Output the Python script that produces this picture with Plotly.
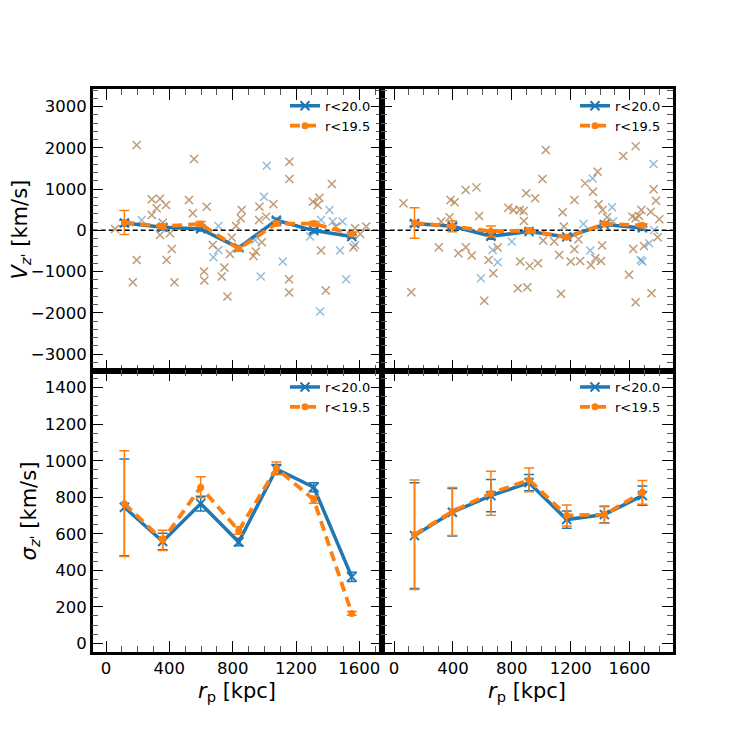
import plotly.graph_objects as go
from plotly.subplots import make_subplots

# ---------------- data ----------------
# bin centres (kpc)
rp_left = [116, 358, 598, 838, 1076, 1312, 1552]
rp_right = [139, 396, 658, 917, 1173, 1429, 1687]

# mean line-of-sight velocity per bin
vz_left_r20 = [175, 73, 33, -427, 243, -8, -150]
vz_left_r20_err = [70, 60, 50, 60, 50, 50, 40]
vz_left_r195 = [190, 97, 154, -450, 162, 162, -88]
vz_left_r195_err = [290, 60, 60, 60, 50, 50, 40]

vz_right_r20 = [165, 97, -145, -30, -160, 138, 58]
vz_right_r20_err = [60, 60, 70, 50, 30, 40, 40]
vz_right_r195 = [178, 97, -24, -8, -170, 154, 121]
vz_right_r195_err = [370, 130, 130, 60, 30, 40, 40]

# velocity dispersion per bin
sz_left_r20 = [745, 558, 765, 555, 955, 855, 364]
sz_left_r20_err = [265, 45, 40, 20, 25, 25, 25]
sz_left_r195 = [765, 564, 855, 618, 958, 787, 164]
sz_left_r195_err = [290, 55, 57, 20, 35, 20, 10]

sz_right_r20 = [590, 718, 809, 880, 678, 705, 809]
sz_right_r20_err = [290, 130, 88, 45, 47, 45, 53]
sz_right_r195 = [595, 722, 822, 895, 700, 705, 827]
sz_right_r195_err = [300, 132, 120, 65, 57, 47, 65]

# individual galaxies (left panel); bright = 1 if also r<19.5
gal_left_x = [57, 194, 225, 194, 169, 289, 341, 320, 289, 379, 358, 341, 404, 415, 383, 432,
              556, 524, 548, 636, 674, 710, 710, 678, 619, 621, 748, 731, 767, 794, 783, 821,
              857, 851, 931, 946, 969, 967, 998, 1015, 1011, 1057, 984, 941, 977, 1116, 1158,
              1158, 1156, 1156, 1306, 1348, 1337, 1289, 1358, 1358, 1352, 1388, 1426, 1411,
              1432, 1451, 1478, 1493, 1516, 1573, 1563, 1605, 1643, 1573]
gal_left_y = [32, 2065, 250, -718, -1258, 750, 766, 532, 371, 613, 185, -113, -73, -452, -718,
              -1258, 1726, 734, 411, 573, -355, 105, -476, -653, -1000, -1218, -903, -1121,
              -1605, -177, -573, 105, 492, 290, -621, -516, 573, 250, 815, 1565, 331, 629,
              -290, -234, -1121, -758, 1661, 1242, -1186, -1508, 694, 790, 613, -153, 250,
              -492, -1968, -1460, 1121, 492, 210, 89, -492, 210, -1186, 48, -411, -89, 89, -355]
gal_left_bright = [1, 1, 0, 1, 1, 1, 1, 1, 1, 1, 1, 1, 1, 1, 1, 1,
                   1, 1, 1, 1, 1, 0, 0, 0, 1, 1, 1, 1, 1, 1, 1, 1,
                   1, 1, 1, 1, 1, 1, 0, 0, 1, 1, 1, 0, 0, 0, 1,
                   1, 1, 1, 1, 1, 1, 0, 0, 1, 0, 1, 1, 0,
                   0, 1, 0, 0, 0, 1, 1, 1, 1, 0]

# individual galaxies (right panel)
gal_right_x = [64, 117, 304, 320, 377, 384, 411, 437, 487, 487, 528, 560, 578, 642, 670, 704,
               704, 674, 590, 613, 777, 812, 853, 880, 882, 898, 958, 800, 857, 921, 978, 841,
               905, 1008, 1031, 1013, 1088, 1122, 1134, 1145, 1154, 1225, 1225, 1200, 1264,
               1253, 1287, 1298, 1349, 1383, 1351, 1390, 1417, 1481, 1447, 1488, 1333, 1367,
               1406, 1337, 1413, 1557, 1641, 1596, 1641, 1625, 1618, 1641, 1664, 1680, 1676,
               1687, 1698, 1733, 1744, 1749, 1763, 1763, 1779, 1802, 1790, 1767]
gal_right_y = [653, -1500, -411, 210, 315, 734, 677, -556, 976, -411, -613, 1040, 347, -718,
               -476, -419, -774, -1040, -1161, -1710, 548, 492, 492, 468, 226, 895, 774, -274,
               -758, -863, -798, -1403, -1379, 1242, 1944, -250, -274, -597, -1540, 435, 89,
               734, -460, -758, -742, -218, 153, 1137, 1258, 1419, 935, 629, 492, 556, 315,
               210, -492, -677, -742, -839, -371, 1798, 2040, -1081, -1742, -452, 331, 290,
               347, 492, -718, -758, -379, -315, 452, -1524, 1605, 992, 718, 266, -169, 8]
gal_right_bright = [1, 1, 1, 1, 1, 1, 1, 1, 1, 1, 1, 1, 1, 1, 0, 1,
                    0, 1, 0, 1, 1, 1, 1, 1, 1, 1, 1, 0, 1, 1, 1, 1,
                    1, 1, 1, 1, 1, 1, 1, 1, 1, 1, 1, 1, 1,
                    1, 0, 1, 0, 1, 1, 1, 1, 0, 1, 0, 0, 1,
                    1, 1, 1, 1, 1, 1, 1, 1, 1, 1, 1, 1, 0,
                    0, 1, 0, 1, 1, 0, 1, 1, 1, 1, 0]

labels = ["r<20.0", "r<19.5"]
x_ticks = [0, 400, 800, 1200, 1600]
x_ticktext = ["0", "400", "800", "1200", "1600"]
vz_ticks = [-3000, -2000, -1000, 0, 1000, 2000, 3000]
vz_ticktext = ["\u22123000", "\u22122000", "\u22121000", "0", "1000", "2000", "3000"]
sz_ticks = [0, 200, 400, 600, 800, 1000, 1200, 1400]
sz_ticktext = ["0", "200", "400", "600", "800", "1000", "1200", "1400"]

# ---------------- style ----------------
BLUE = "#1f77b4"
ORANGE = "#ff7f0e"
BLUE_A = "rgba(31,119,180,0.5)"
ORANGE_A = "rgba(255,127,14,0.5)"
FONT = "DejaVu Sans"
W = 747
OFF = 8  # page body margin offset

fig = make_subplots(rows=2, cols=2, horizontal_spacing=0, vertical_spacing=0)


def add_galaxies(row, col, gx, gy, gb):
    fig.add_trace(go.Scatter(x=gx, y=gy, mode="markers", showlegend=False,
                             marker=dict(symbol="x-thin", size=8, line=dict(width=1.4, color=BLUE_A))),
                  row=row, col=col)
    bx = [x for x, b in zip(gx, gb) if b]
    by = [y for y, b in zip(gy, gb) if b]
    fig.add_trace(go.Scatter(x=bx, y=by, mode="markers", showlegend=False,
                             marker=dict(symbol="x-thin", size=8, line=dict(width=1.4, color=ORANGE_A))),
                  row=row, col=col)


def add_profiles(row, col, rp, m20, e20, m195, e195, leg):
    fig.add_trace(go.Scatter(x=rp, y=m20, name=labels[0], legend=leg, mode="lines+markers",
                             line=dict(color=BLUE, width=3.5),
                             marker=dict(symbol="x-thin", size=9, color=BLUE, line=dict(width=2, color=BLUE)),
                             error_y=dict(type="data", array=e20, color=BLUE, thickness=1.5, width=5)),
                  row=row, col=col)
    fig.add_trace(go.Scatter(x=rp, y=m195, name=labels[1], legend=leg, mode="lines+markers",
                             line=dict(color=ORANGE, width=3.8, dash="10px,6px"),
                             marker=dict(symbol="circle", size=7, color=ORANGE),
                             error_y=dict(type="data", array=e195, color=ORANGE, thickness=1.5, width=5)),
                  row=row, col=col)


add_galaxies(1, 1, gal_left_x, gal_left_y, gal_left_bright)
add_profiles(1, 1, rp_left, vz_left_r20, vz_left_r20_err, vz_left_r195, vz_left_r195_err, "legend")
add_galaxies(1, 2, gal_right_x, gal_right_y, gal_right_bright)
add_profiles(1, 2, rp_right, vz_right_r20, vz_right_r20_err, vz_right_r195, vz_right_r195_err, "legend2")
add_profiles(2, 1, rp_left, sz_left_r20, sz_left_r20_err, sz_left_r195, sz_left_r195_err, "legend3")
add_profiles(2, 2, rp_right, sz_right_r20, sz_right_r20_err, sz_right_r195, sz_right_r195_err, "legend4")

# zero lines in velocity panels
for xr, yr in [("x", "y"), ("x2", "y2")]:
    fig.add_shape(type="line", xref=xr + " domain", yref=yr, x0=0, x1=1, y0=0, y1=0,
                  line=dict(color="black", width=1.3, dash="5px,3px"), layer="below")

# ---------------- axes ----------------
def px_x(p):
    return (p - OFF) / W


def px_y(p):
    return 1 - (p - OFF) / W


xl0, xmid, xr1 = px_x(92.7), px_x(381.7), px_x(672.7)
yb0, ymid, yt1 = px_y(653.3), px_y(371.5), px_y(89)

common = dict(showline=True, linewidth=2.5, linecolor="black", mirror="allticks",
              ticks="inside", ticklen=11, tickwidth=1.4, tickcolor="black",
              showgrid=False, zeroline=False,
              tickfont=dict(family=FONT, size=16.5, color="black"))

x_left_range = [-84, 1741]
x_right_range = [-84, 1893]
xaxes = {
    "xaxis": dict(domain=[xl0, xmid], range=x_left_range, showticklabels=False),
    "xaxis2": dict(domain=[xmid, xr1], range=x_right_range, showticklabels=False),
    "xaxis3": dict(domain=[xl0, xmid], range=x_left_range, showticklabels=True),
    "xaxis4": dict(domain=[xmid, xr1], range=x_right_range, showticklabels=True),
}
for k, v in xaxes.items():
    d = dict(common)
    d.update(v)
    d.update(tickvals=x_ticks, ticktext=x_ticktext,
             minor=dict(ticks="inside", ticklen=6, tickwidth=1, tickcolor="#555", dtick=100, tick0=0))
    fig.update_layout({k: d})

vz_minor = dict(ticks="inside", ticklen=6, tickwidth=1, tickcolor="#555", dtick=200, tick0=0)
sz_minor = dict(ticks="inside", ticklen=6, tickwidth=1, tickcolor="#555", dtick=50, tick0=0)
yaxes = {
    "yaxis": dict(domain=[ymid, yt1], range=[-3400, 3430], showticklabels=True,
                  tickvals=vz_ticks, ticktext=vz_ticktext, minor=vz_minor),
    "yaxis2": dict(domain=[ymid, yt1], range=[-3400, 3430], showticklabels=False,
                   tickvals=vz_ticks, ticktext=vz_ticktext, minor=vz_minor),
    "yaxis3": dict(domain=[yb0, ymid], range=[-45, 1494], showticklabels=True,
                   tickvals=sz_ticks, ticktext=sz_ticktext, minor=sz_minor),
    "yaxis4": dict(domain=[yb0, ymid], range=[-45, 1494], showticklabels=False,
                   tickvals=sz_ticks, ticktext=sz_ticktext, minor=sz_minor),
}
for k, v in yaxes.items():
    d = dict(common)
    d.update(v)
    if k == "yaxis":
        d["title"] = dict(text="<i>V</i><sub><i>z</i>'</sub> [km/s]",
                          font=dict(family=FONT, size=21, color="black"), standoff=3)
    if k == "yaxis3":
        d["title"] = dict(text="<i>\u03c3</i><sub><i>z</i>'</sub> [km/s]",
                          font=dict(family=FONT, size=21, color="black"), standoff=3)
    fig.update_layout({k: d})

# x-axis titles as annotations for precise placement
for cx in [(xl0 + xmid) / 2, (xmid + xr1) / 2]:
    fig.add_annotation(text="<i>r</i><sub>p</sub> [kpc]", xref="paper", yref="paper",
                       x=cx, y=px_y(679), xanchor="center", yanchor="top", showarrow=False,
                       font=dict(family=FONT, size=21, color="black"))

# ---------------- legends ----------------
leg_common = dict(xanchor="right", yanchor="top", bgcolor="rgba(0,0,0,0)",
                  font=dict(family=FONT, size=13, color="black"), itemwidth=30,
                  tracegroupgap=0)
leg_pos = {
    "legend": (px_x(376), px_y(91)),
    "legend2": (px_x(666), px_y(91)),
    "legend3": (px_x(376), px_y(373)),
    "legend4": (px_x(666), px_y(373)),
}
for k, (lx, ly) in leg_pos.items():
    d = dict(leg_common)
    d.update(x=lx, y=ly)
    fig.update_layout({k: d})

fig.update_layout(width=W, height=W, margin=dict(l=0, r=0, t=0, b=0),
                  plot_bgcolor="white", paper_bgcolor="white",
                  font=dict(family=FONT, color="black"), showlegend=True)

fig.write_html("out.html")
